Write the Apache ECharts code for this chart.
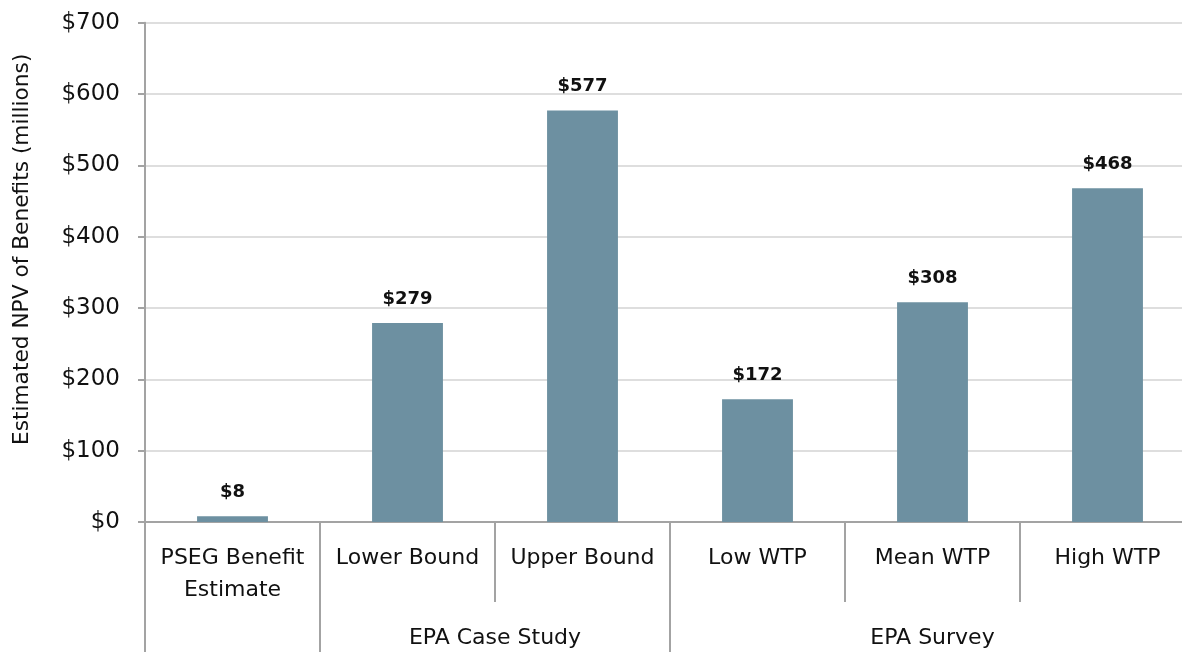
<!DOCTYPE html>
<html>
<head>
<meta charset="utf-8">
<script src="https://cdn.jsdelivr.net/npm/echarts@6/dist/echarts.min.js"></script>
<style>
html,body{margin:0;padding:0;background:#fff;overflow:hidden;}
#chart{width:1182px;height:652px;}
</style>
</head>
<body>
<div id="chart"></div>
<script>
const categories = ['PSEG Benefit\nEstimate', 'Lower Bound', 'Upper Bound', 'Low WTP', 'Mean WTP', 'High WTP'];
const values = [8, 279, 577, 172, 308, 468];
const groupNames = ['', 'EPA Case Study', 'EPA Survey'];
const groupSizes = [1, 2, 3];
const yTicks = [0, 100, 200, 300, 400, 500, 600, 700];

// group boundaries and centres (in category units)
const groupBounds = [0];
groupSizes.forEach(s => groupBounds.push(groupBounds[groupBounds.length - 1] + s));
const groupCenters = groupSizes.map((s, i) => groupBounds[i] + s / 2);

const FONT = 'DejaVu Sans';
const TXT = '#111111';
const AXIS = '#a3a3a3';

const chart = echarts.init(document.getElementById('chart'), null, {renderer: 'canvas'});
chart.setOption({
  animation: false,
  textStyle: {fontFamily: FONT},
  grid: {left: 145, width: 1050, top: 22.7, height: 499.3, containLabel: false, outerBoundsMode: 'none'},
  xAxis: [
    {
      type: 'category',
      data: categories,
      position: 'bottom',
      axisLine: {show: true, lineStyle: {color: AXIS, width: 2}},
      axisTick: {show: true, interval: 0, length: 80, alignWithLabel: false, lineStyle: {color: AXIS, width: 2}},
      axisLabel: {interval: 0, margin: 20, fontSize: 22, lineHeight: 32, color: TXT, fontFamily: FONT, verticalAlign: 'top'},
      splitLine: {show: false}
    },
    {
      type: 'value',
      min: groupBounds[0],
      max: groupBounds[groupBounds.length - 1],
      position: 'bottom',
      axisLine: {show: false},
      axisTick: {show: true, customValues: groupBounds, length: 130, lineStyle: {color: AXIS, width: 2}},
      axisLabel: {
        show: true,
        customValues: groupCenters,
        formatter: function (v) {
          const i = groupCenters.findIndex(c => Math.abs(c - v) < 1e-6);
          return i >= 0 ? groupNames[i] : '';
        },
        margin: 100, fontSize: 22, lineHeight: 32, color: TXT, fontFamily: FONT, verticalAlign: 'top'
      },
      splitLine: {show: false}
    }
  ],
  yAxis: {
    type: 'value',
    min: yTicks[0],
    max: yTicks[yTicks.length - 1],
    interval: yTicks[1] - yTicks[0],
    name: 'Estimated NPV of Benefits (millions)',
    nameLocation: 'middle',
    nameGap: 112,
    nameRotate: 90,
    nameTextStyle: {fontSize: 21.7, color: TXT, fontFamily: FONT, padding: [0, 0, 0, 46]},
    axisLine: {show: true, lineStyle: {color: AXIS, width: 2}},
    axisTick: {show: true, length: 7, lineStyle: {color: AXIS, width: 2}},
    axisLabel: {formatter: v => '$' + v, fontSize: 23, color: TXT, margin: 25, fontFamily: FONT},
    splitLine: {show: true, lineStyle: {color: '#dedede', width: 2}}
  },
  series: [{
    type: 'bar',
    data: values,
    xAxisIndex: 0,
    barWidth: '40.5%',
    itemStyle: {color: '#6d90a1'},
    label: {
      show: true,
      position: 'top',
      distance: 15,
      formatter: p => '$' + p.value,
      fontSize: 18,
      fontWeight: 'bold',
      color: TXT,
      fontFamily: FONT
    }
  }]
});
</script>
</body>
</html>
